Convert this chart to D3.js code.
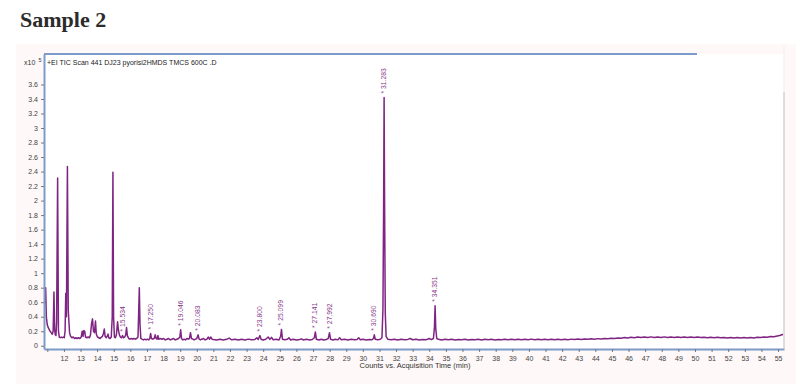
<!DOCTYPE html>
<meta charset="utf-8">
<script src="https://d3js.org/d3.v7.min.js"></script>
<style>
  body { margin: 0; background: #fff; }
  text { font-family: "Liberation Sans", Arial, sans-serif; }
</style>
<body>
<div id="chart"></div>
<script>

// retention time (min)
var rt = [
  10.80, 10.86, 10.90, 10.94, 10.99, 11.02, 11.08, 11.14, 11.20, 11.26, 11.30, 11.35, 11.40, 11.44, 11.48, 11.52, 11.56, 11.62, 11.67, 11.72,
  11.78, 11.84, 11.90, 11.96, 12.02, 12.07, 12.11, 12.15, 12.21, 12.26, 12.30, 12.34, 12.40, 12.48, 12.56, 12.64, 12.72, 12.80, 12.88, 12.96,
  13.04, 13.10, 13.15, 13.20, 13.25, 13.30, 13.38, 13.46, 13.54, 13.60, 13.66, 13.72, 13.78, 13.84, 13.90, 13.95, 14.02, 14.10, 14.18, 14.26,
  14.32, 14.38, 14.43, 14.48, 14.55, 14.62, 14.66, 14.70, 14.78, 14.85, 14.91, 14.95, 14.99, 15.04, 15.10, 15.16, 15.23, 15.28, 15.34, 15.40,
  15.46, 15.53, 15.58, 15.66, 15.72, 15.77, 15.82, 15.90, 15.98, 16.06, 16.14, 16.22, 16.30, 16.38, 16.46, 16.50, 16.54, 16.58, 16.63, 16.70,
  16.78, 16.86, 16.94, 17.02, 17.10, 17.17, 17.22, 17.27, 17.35, 17.43, 17.50, 17.55, 17.61, 17.66, 17.71, 17.80, 17.90, 18.00, 18.10, 18.20,
  18.30, 18.40, 18.50, 18.60, 18.70, 18.80, 18.90, 18.98, 19.03, 19.08, 19.16, 19.24, 19.32, 19.40, 19.48, 19.56, 19.62, 19.68, 19.76, 19.84,
  19.92, 20.00, 20.08, 20.14, 20.22, 20.30, 20.40, 20.50, 20.60, 20.70, 20.76, 20.85, 20.92, 21.00, 21.20, 21.40, 21.60, 21.80, 21.95, 22.10,
  22.30, 22.50, 22.70, 22.90, 23.10, 23.30, 23.50, 23.62, 23.70, 23.80, 23.88, 24.00, 24.15, 24.30, 24.40, 24.50, 24.60, 24.80, 24.95, 25.05,
  25.10, 25.16, 25.30, 25.45, 25.55, 25.65, 25.80, 26.00, 26.20, 26.30, 26.40, 26.60, 26.80, 26.95, 27.08, 27.14, 27.20, 27.35, 27.50, 27.65,
  27.80, 27.92, 27.99, 28.06, 28.20, 28.35, 28.50, 28.60, 28.70, 28.90, 29.10, 29.30, 29.50, 29.65, 29.75, 29.85, 30.00, 30.20, 30.40, 30.55,
  30.64, 30.69, 30.75, 30.90, 31.05, 31.15, 31.21, 31.25, 31.28, 31.31, 31.35, 31.40, 31.50, 31.70, 31.90, 32.10, 32.30, 32.50, 32.70, 32.85,
  33.00, 33.20, 33.40, 33.60, 33.80, 34.00, 34.12, 34.25, 34.31, 34.35, 34.39, 34.45, 34.55, 34.75, 34.95, 35.15, 35.35, 35.55, 35.75, 35.95,
  36.15, 36.35, 36.55, 36.75, 36.95, 37.15, 37.35, 37.55, 37.75, 37.95, 38.15, 38.35, 38.55, 38.75, 38.95, 39.15, 39.35, 39.55, 39.75, 39.95,
  40.15, 40.35, 40.55, 40.75, 40.95, 41.15, 41.35, 41.55, 41.75, 41.95, 42.15, 42.35, 42.55, 42.75, 42.95, 43.15, 43.35, 43.55, 43.75, 43.95,
  44.15, 44.35, 44.55, 44.75, 44.95, 45.15, 45.35, 45.55, 45.75, 45.95, 46.15, 46.35, 46.55, 46.75, 46.95, 47.15, 47.35, 47.55, 47.75, 47.95,
  48.15, 48.35, 48.55, 48.75, 48.95, 49.15, 49.35, 49.55, 49.75, 49.95, 50.15, 50.35, 50.55, 50.75, 50.95, 51.15, 51.35, 51.55, 51.75, 51.95,
  52.15, 52.35, 52.55, 52.75, 52.95, 53.15, 53.35, 53.55, 53.75, 53.95, 54.15, 54.35, 54.55, 54.75, 54.95, 55.10, 55.25, 55.30
];

// abundance (x10^5 counts)
var counts = [
  0.45, 0.78, 0.80, 0.40, 0.30, 0.27, 0.24, 0.21, 0.19, 0.17, 0.16, 0.20, 0.74, 0.22, 0.15, 0.14, 0.33, 2.31, 0.20, 0.12,
  0.11, 0.12, 0.11, 0.12, 0.11, 0.20, 0.72, 0.40, 2.47, 0.50, 0.33, 0.18, 0.13, 0.11, 0.12, 0.10, 0.11, 0.10, 0.11, 0.10,
  0.12, 0.20, 0.13, 0.21, 0.20, 0.12, 0.11, 0.12, 0.11, 0.15, 0.30, 0.37, 0.20, 0.18, 0.34, 0.16, 0.12, 0.11, 0.10, 0.12,
  0.13, 0.17, 0.23, 0.13, 0.11, 0.14, 0.16, 0.11, 0.10, 0.12, 0.40, 2.39, 0.40, 0.12, 0.11, 0.15, 0.33, 0.22, 0.15, 0.12,
  0.11, 0.14, 0.11, 0.12, 0.15, 0.25, 0.14, 0.10, 0.09, 0.10, 0.09, 0.10, 0.09, 0.10, 0.12, 0.45, 0.80, 0.30, 0.10, 0.09,
  0.08, 0.09, 0.08, 0.09, 0.08, 0.10, 0.17, 0.10, 0.09, 0.10, 0.15, 0.10, 0.09, 0.14, 0.09, 0.10, 0.09, 0.10, 0.08, 0.09,
  0.10, 0.08, 0.09, 0.10, 0.08, 0.09, 0.10, 0.12, 0.22, 0.10, 0.08, 0.09, 0.08, 0.10, 0.09, 0.10, 0.18, 0.10, 0.09, 0.08,
  0.09, 0.10, 0.15, 0.09, 0.08, 0.09, 0.10, 0.08, 0.09, 0.12, 0.09, 0.12, 0.09, 0.085, 0.078, 0.090, 0.080, 0.088, 0.105, 0.082,
  0.090, 0.079, 0.088, 0.080, 0.091, 0.082, 0.087, 0.110, 0.085, 0.140, 0.086, 0.080, 0.090, 0.120, 0.088, 0.115, 0.082, 0.089, 0.080, 0.130,
  0.225, 0.090, 0.082, 0.088, 0.110, 0.080, 0.089, 0.079, 0.087, 0.095, 0.080, 0.088, 0.079, 0.086, 0.110, 0.190, 0.090, 0.080, 0.088, 0.079,
  0.087, 0.100, 0.180, 0.088, 0.080, 0.089, 0.081, 0.110, 0.083, 0.089, 0.080, 0.088, 0.081, 0.087, 0.110, 0.082, 0.089, 0.080, 0.087, 0.082,
  0.100, 0.150, 0.088, 0.081, 0.090, 0.110, 0.50, 1.90, 3.42, 1.90, 0.45, 0.13, 0.090, 0.082, 0.089, 0.080, 0.088, 0.081, 0.087, 0.100,
  0.082, 0.089, 0.080, 0.087, 0.081, 0.100, 0.085, 0.100, 0.25, 0.55, 0.24, 0.10, 0.088, 0.080, 0.089, 0.081, 0.088, 0.079, 0.087, 0.081,
  0.089, 0.080, 0.087, 0.082, 0.088, 0.080, 0.089, 0.081, 0.088, 0.080, 0.087, 0.081, 0.089, 0.082, 0.088, 0.081, 0.090, 0.083, 0.089, 0.082,
  0.091, 0.083, 0.090, 0.082, 0.089, 0.083, 0.090, 0.082, 0.088, 0.083, 0.090, 0.084, 0.091, 0.085, 0.092, 0.086, 0.094, 0.088, 0.096, 0.090,
  0.098, 0.093, 0.101, 0.096, 0.104, 0.099, 0.107, 0.103, 0.112, 0.108, 0.117, 0.111, 0.119, 0.113, 0.121, 0.114, 0.122, 0.115, 0.121, 0.114,
  0.122, 0.115, 0.121, 0.114, 0.120, 0.113, 0.121, 0.114, 0.120, 0.113, 0.119, 0.112, 0.118, 0.111, 0.117, 0.110, 0.116, 0.109, 0.115, 0.108,
  0.114, 0.107, 0.113, 0.106, 0.112, 0.107, 0.113, 0.108, 0.116, 0.112, 0.121, 0.117, 0.126, 0.124, 0.135, 0.140, 0.155, 0.150
];

// labelled peaks (retention time, min)
var peakTimes = [15.534, 17.250, 19.046, 20.083, 23.800, 25.099, 27.141, 27.992, 30.690, 31.283, 34.351];

// axis ticks
var xTicks = [11, 12, 13, 14, 15, 16, 17, 18, 19, 20, 21, 22, 23, 24, 25, 26, 27, 28, 29, 30, 31, 32, 33,
  34, 35, 36, 37, 38, 39, 40, 41, 42, 43, 44, 45, 46, 47, 48, 49, 50, 51, 52, 53, 54, 55];
var yTicks = [0, 0.2, 0.4, 0.6, 0.8, 1, 1.2, 1.4, 1.6, 1.8, 2, 2.2, 2.4, 2.6, 2.8, 3, 3.2, 3.4, 3.6];

var W = 811, H = 384;
var margin = { top: 54, right: 27, bottom: 35, left: 44 };

var svg = d3.select("#chart").append("svg")
  .attr("width", W)
  .attr("height", H);

// faint page backdrop + white plot area
svg.append("rect")
  .attr("x", 16).attr("y", 44)
  .attr("width", 780).attr("height", 340)
  .attr("fill", "#fef8f8");
svg.append("rect")
  .attr("x", margin.left).attr("y", margin.top)
  .attr("width", W - margin.left - margin.right)
  .attr("height", H - margin.top - margin.bottom)
  .attr("fill", "#fff");

svg.append("text")
  .attr("x", 20).attr("y", 27)
  .style("font-family", "'Liberation Serif', serif")
  .style("font-weight", "bold")
  .style("font-size", "22px")
  .attr("fill", "#2b2b2b")
  .text("Sample 2");

var x = d3.scaleLinear()
  .domain([10.8, 55.36])
  .range([margin.left, W - margin.right]);

var y = d3.scaleLinear()
  .domain([-0.045, 4.02])
  .range([H - margin.bottom, margin.top]);

svg.append("clipPath").attr("id", "plotclip")
  .append("rect")
  .attr("x", margin.left).attr("y", margin.top)
  .attr("width", W - margin.left - margin.right)
  .attr("height", H - margin.top - margin.bottom);

// chromatogram trace
var line = d3.line()
  .x(function(d, i) { return x(rt[i]); })
  .y(function(d, i) { return y(counts[i]); });

svg.append("path")
  .datum(counts)
  .attr("clip-path", "url(#plotclip)")
  .attr("d", line)
  .attr("fill", "none")
  .attr("stroke", "#7f2482")
  .attr("stroke-width", 1.5)
  .attr("stroke-linejoin", "round");

// peak labels
peakTimes.forEach(function(t) {
  var top = 0;
  rt.forEach(function(r, i) {
    if (Math.abs(r - t) < 0.1 && counts[i] > top) top = counts[i];
  });
  svg.append("text")
    .attr("transform", "translate(" + (x(t) + 2) + "," + (y(top) - 4) + ") rotate(-90)")
    .style("font-size", "6.8px")
    .attr("fill", "#8a3a8c")
    .text("* " + t.toFixed(3));
});

// axes
var xAxis = svg.append("g")
  .attr("transform", "translate(0," + (H - margin.bottom) + ")")
  .call(d3.axisBottom(x)
    .tickValues(xTicks)
    .tickSize(3)
    .tickSizeOuter(0)
    .tickFormat(function(d) { return d == 11 ? "" : d; }));

var yAxis = svg.append("g")
  .attr("transform", "translate(" + margin.left + ",0)")
  .call(d3.axisLeft(y)
    .tickValues(yTicks)
    .tickSize(3)
    .tickSizeOuter(0)
    .tickFormat(function(d) { return String(d); }));

[xAxis, yAxis].forEach(function(g) {
  g.select(".domain").attr("stroke", "#7d9bc9").attr("stroke-width", 2);
  g.selectAll(".tick line").attr("stroke", "#777");
  g.selectAll(".tick text")
    .style("font-family", "'Liberation Sans', Arial, sans-serif")
    .style("font-size", "7px")
    .attr("fill", "#444");
});
xAxis.selectAll(".tick text").attr("dy", "0.9em");

// frame: top border and right edge
svg.append("line")
  .attr("x1", margin.left).attr("x2", 697)
  .attr("y1", margin.top).attr("y2", margin.top)
  .attr("stroke", "#7d9bc9").attr("stroke-width", 2);
svg.append("line")
  .attr("x1", W - margin.right).attr("x2", W - margin.right)
  .attr("y1", 92).attr("y2", H - margin.bottom)
  .attr("stroke", "#bdbdbd").attr("stroke-width", 1);
svg.append("line")
  .attr("x1", W - margin.right).attr("x2", W - margin.right)
  .attr("y1", 46).attr("y2", 92)
  .attr("stroke", "#eeeeee").attr("stroke-width", 1);

// titles
svg.append("text")
  .attr("x", 47).attr("y", 65)
  .style("font-size", "7px")
  .attr("fill", "#222")
  .text("+EI TIC Scan 441 DJ23 pyorisi2HMDS TMCS 600C .D");

svg.append("text")
  .attr("x", 24).attr("y", 65)
  .style("font-size", "7px")
  .attr("fill", "#333")
  .text("x10");
svg.append("text")
  .attr("x", 38.5).attr("y", 62)
  .style("font-size", "5.5px")
  .attr("fill", "#333")
  .text("5");

svg.append("text")
  .attr("x", 415).attr("y", 368)
  .attr("text-anchor", "middle")
  .style("font-size", "7.5px")
  .attr("fill", "#333")
  .text("Counts vs. Acquisition Time (min)");

</script>
</body>
